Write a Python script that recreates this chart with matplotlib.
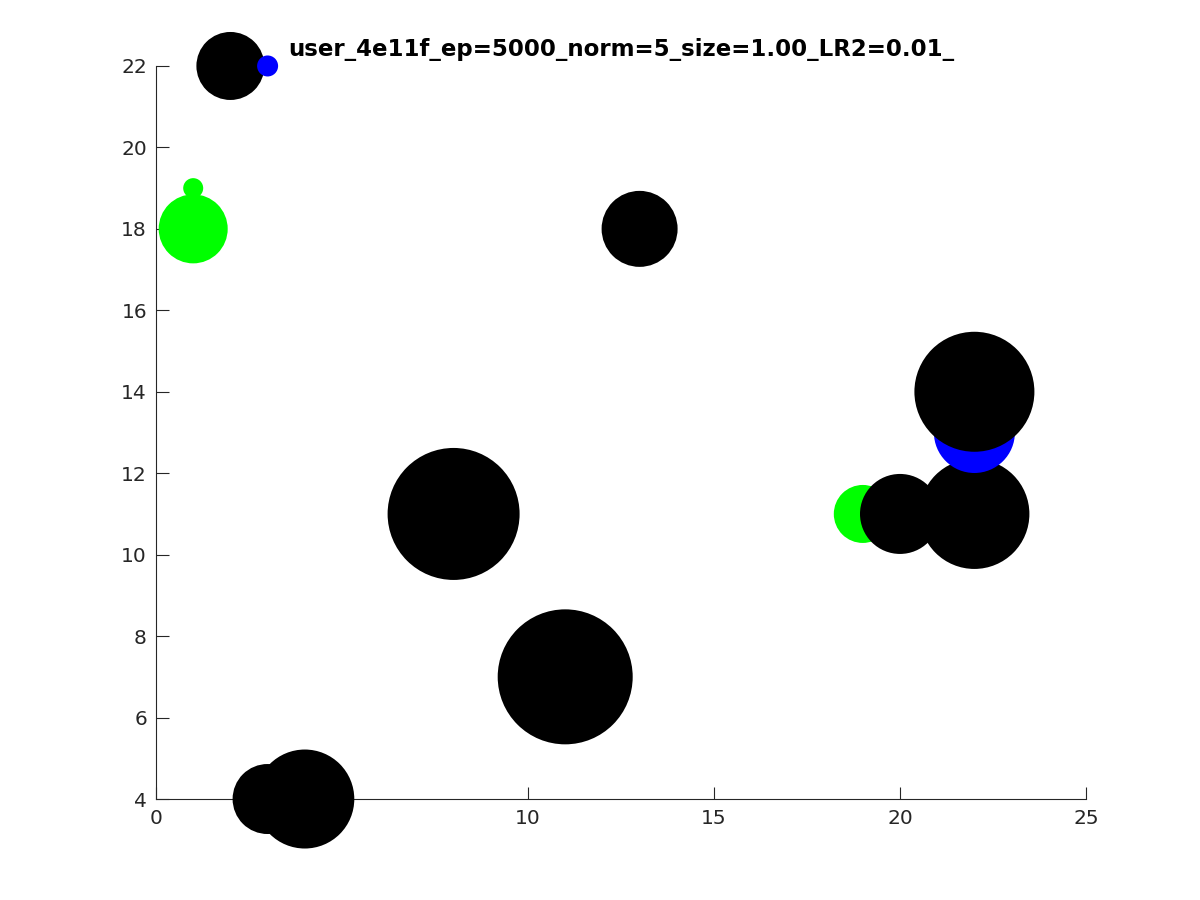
import matplotlib
matplotlib.use("Agg")
import matplotlib.pyplot as plt

title = "user_4e11f_ep=5000_norm=5_size=1.00_LR2=0.01_"

# points in drawing order (later drawn on top)
xs =      [2,   3,   1,   1,   13,  19,  20,  8,   11,  3,   4,   22,  22,  22]
ys =      [22,  22,  19,  18,  18,  11,  11,  11,  7,   4,   4,   11,  13,  14]
diam_px = [68,  21,  20,  69,  76,  58,  80,  132, 135, 70,  99,  110, 81,  120]
colors =  ['k', 'b', 'lime', 'lime', 'k', 'lime', 'k', 'k', 'k', 'k', 'k', 'k', 'b', 'k']

xticks = [0, 5, 10, 15, 20, 25]
yticks = [4, 6, 8, 10, 12, 14, 16, 18, 20, 22]

dpi = 100
fig = plt.figure(figsize=(12, 9), dpi=dpi)
ax = fig.add_axes([0.13, 0.1122, 0.775, 0.8145])

sizes = [(d * 72.0 / dpi) ** 2 for d in diam_px]
colmap = {'k': '#000000', 'b': '#0000ff', 'lime': '#00ff00'}
ax.scatter(xs, ys, s=sizes, c=[colmap[c] for c in colors], linewidths=0,
           clip_on=False, zorder=3)

ax.set_xlim(0, 25)
ax.set_ylim(4, 22)
ax.set_xticks(xticks)
ax.set_yticks(yticks)
for side in ['top', 'right']:
    ax.spines[side].set_visible(False)
for side in ['left', 'bottom']:
    ax.spines[side].set_color('#262626')
    ax.spines[side].set_linewidth(0.8)
ax.tick_params(direction='in', length=9, width=0.8, color='#262626',
               labelcolor='#262626', labelsize=14.5)
ax.tick_params(axis='x', pad=7.5)
ax.tick_params(axis='y', pad=6.5)
ax.set_title(title, fontsize=16.5, fontweight='bold', pad=7)

fig.savefig("out.png", dpi=dpi)
